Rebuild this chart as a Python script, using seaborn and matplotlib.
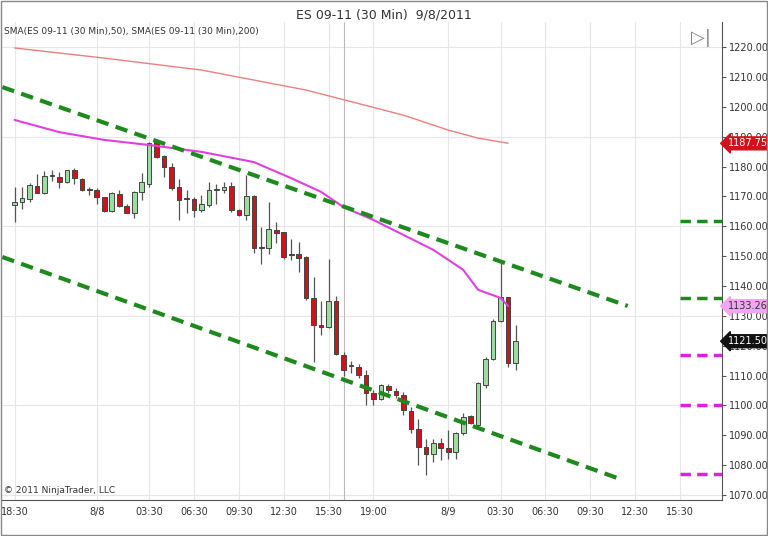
import matplotlib
matplotlib.use("Agg")
import matplotlib.pyplot as plt
import seaborn as sns
import numpy as np
import pandas as pd

opens  = [1167.1,1168.2,1169.1,1173.6,1171.0,1176.9,1176.6,1174.9,1179.0,1175.8,1172.4,1172.3,1169.7,1165.2,1170.7,1166.8,1164.5,1171.3,1174.3,1188.3,1183.5,1179.7,1173.0,1169.1,1169.0,1165.4,1167.1,1172.1,1172.3,1173.5,1165.6,1163.7,1170.1,
          1152.8,1152.6,1158.8,1158.0,1150.5,1150.6,1149.6,1135.9,1127.0,1126.4,1135.1,1116.9,1113.2,1113.0,1110.2,1104.1,1102.2,1106.6,1104.9,
          1103.5,1098.1,1092.1,1086.2,1083.9,1087.5,1085.6,1084.5,1090.6,1096.5,1093.6,1106.8,1115.7,1128.2,1136.2,1114.1]
closes = [1168.2,1169.3,1173.8,1171.2,1176.8,1177.0,1174.9,1178.8,1176.0,1172.1,1172.3,1169.9,1165.2,1171.0,1166.8,1164.5,1171.6,1174.7,1188.0,1183.3,1179.7,1172.7,1168.8,1169.0,1165.6,1167.6,1172.1,1172.6,1173.2,1165.4,1163.7,1170.1,1152.6,
          1152.6,1159.0,1157.9,1149.8,1150.4,1149.3,1135.9,1127.0,1126.4,1135.1,1117.1,1111.7,1113.4,1110.2,1104.1,1102.2,1106.9,1105.0,1103.5,
          1098.4,1092.1,1086.2,1083.9,1087.5,1085.9,1084.5,1090.6,1096.2,1094.0,1107.4,1115.7,1128.2,1136.2,1114.1,1121.5]
highs  = [1173.2,1173.0,1174.6,1177.5,1178.5,1179.0,1178.3,1179.0,1179.4,1176.0,1173.0,1172.7,1169.9,1171.6,1172.1,1167.4,1171.9,1177.7,1188.3,1188.9,1183.8,1181.3,1175.7,1172.1,1169.9,1170.6,1174.7,1174.3,1174.7,1174.7,1165.9,1177.1,1170.4,
          1159.9,1168.0,1161.3,1158.2,1155.6,1154.6,1150.1,1142.9,1135.1,1149.0,1136.6,1117.8,1114.9,1113.9,1111.7,1105.2,1107.2,1107.2,1105.8,
          1104.6,1099.6,1095.3,1088.7,1088.6,1089.0,1091.7,1091.2,1097.6,1096.8,1107.7,1116.1,1128.8,1147.8,1136.4,1126.9]
lows   = [1161.5,1165.7,1168.0,1171.0,1170.8,1175.2,1172.7,1174.6,1174.1,1171.8,1170.4,1167.4,1164.9,1164.9,1166.3,1164.3,1162.6,1168.8,1173.2,1182.7,1176.4,1172.3,1162.1,1164.3,1163.0,1164.9,1166.5,1167.4,1171.0,1164.9,1163.4,1162.1,1150.9,
          1147.4,1150.6,1154.3,1148.9,1148.7,1144.8,1135.3,1114.7,1123.7,1125.8,1116.9,1109.7,1110.8,1109.1,1100.2,1100.2,1101.9,1104.1,1102.4,
          1096.8,1090.9,1080.2,1076.7,1081.2,1081.7,1081.9,1081.9,1090.0,1093.8,1093.3,1105.9,1115.2,1128.0,1112.9,1111.8]

sma50_idx = [0,6,12,18,25,32,37,41,44,48,52,56,60,62,65,66]
sma50_val = [1195.6,1191.5,1188.9,1187.2,1184.9,1181.5,1176.1,1171.5,1166.4,1162.1,1157.1,1152.1,1145.4,1138.7,1136.0,1133.3]
sma200_idx = [0,12,25,39,52,58,62,66]
sma200_val = [1219.7,1216.3,1212.3,1205.6,1197.2,1192.2,1189.5,1187.8]

upper_line_x = [-1.64, 82.0]
upper_line_y = [1206.6, 1133.3]
lower_line_x = [-1.64, 80.6]
lower_line_y = [1149.7, 1075.7]

green_levels = [1161.7, 1136.0]
magenta_levels = [1116.9, 1100.1, 1077.0]

tick_idx = [0,11,18,24,30,36,42,48,58,65,71,77,83,89]
tick_labels = ["18:30","8/8","03:30","06:30","09:30","12:30","15:30","19:00","8/9","03:30","06:30","09:30","12:30","15:30"]

sns.set_style("white")
plt.rcParams['font.family'] = ['DejaVu Sans']

fig = plt.figure(figsize=(7.68,5.36), dpi=100)
ax = fig.add_axes([0.003, 0.067, 0.937, 0.892])
xmin, xmax = -1.64, 94.6
ax.set_xlim(xmin, xmax)
ax.set_ylim(1068.3, 1228.4)

for v in [1070,1100,1130,1160,1190,1220]:
    ax.axhline(v, color="#e6e6e6", lw=0.8, zorder=0)
for t in tick_idx:
    ax.axvline(t, color="#e6e6e6", lw=0.8, zorder=0)
ax.axvline(44.0, color="#bbbbbb", lw=0.8, zorder=0)

df = pd.DataFrame({"i": np.arange(len(opens)), "o": opens, "c": closes, "h": highs, "l": lows})
for r in df.itertuples():
    ax.vlines(r.i, r.l, r.h, color="#555555", lw=0.9, zorder=2)
    up = r.c >= r.o
    lo, hi = min(r.o, r.c), max(r.o, r.c)
    height = max(hi - lo, 0.3)
    ax.bar(r.i, height, bottom=lo, width=0.62, color="#9edb9e" if up else "#d0121b",
           edgecolor="#444444", lw=0.7, zorder=3)

sns.lineplot(x=sma200_idx, y=sma200_val, ax=ax, color="#e88080", lw=1.0, zorder=4)
sns.lineplot(x=sma50_idx, y=sma50_val, ax=ax, color="#e040e0", lw=1.5, zorder=4)
ax.plot(upper_line_x, upper_line_y, color="#1e8a1e", lw=3, ls=(0,(3,1.8)), zorder=5)
ax.plot(lower_line_x, lower_line_y, color="#1e8a1e", lw=3, ls=(0,(3,1.8)), zorder=5)
for v in green_levels:
    ax.plot([89, 94.6], [v, v], color="#1e8a1e", lw=2.5, ls=(0,(3,1.8)), zorder=5)
for v in magenta_levels:
    ax.plot([89, 94.6], [v, v], color="#e020e0", lw=2.5, ls=(0,(3,1.8)), zorder=5)

ax.set_xticks(tick_idx)
ax.set_xticklabels(tick_labels, fontsize=7, color="#333333")
ax.yaxis.tick_right()
ax.set_yticks(np.arange(1070, 1221, 10))
ax.set_yticklabels([f"{v:.2f}" for v in np.arange(1070, 1221, 10)], fontsize=7, color="#333333")
ax.tick_params(axis="both", length=3, color="#555555", pad=2)
for s in ["top", "left"]:
    ax.spines[s].set_visible(False)
ax.spines["right"].set_color("#555555")
ax.spines["bottom"].set_color("#555555")
ax.set_xlabel(""); ax.set_ylabel("")

for val, col, txt in [(1187.75, "#d0121b", "white"), (1133.26, "#f2a6f2", "#333333"), (1121.50, "#111111", "white")]:
    ax.annotate(f"{val:.2f}", xy=(1.0, val), xycoords=("axes fraction", "data"), xytext=(4, 0),
                textcoords="offset points", va="center", ha="left", fontsize=7, color=txt,
                bbox=dict(boxstyle="larrow,pad=0.15", fc=col, ec=col))

fig.text(0.5, 0.985, "ES 09-11 (30 Min)  9/8/2011", ha="center", va="top", fontsize=9, color="#333333")
ax.text(0.003, 0.99, "SMA(ES 09-11 (30 Min),50), SMA(ES 09-11 (30 Min),200)", transform=ax.transAxes,
        fontsize=6.5, va="top", ha="left", color="#333333")
ax.text(0.003, 0.01, "© 2011 NinjaTrader, LLC", transform=ax.transAxes, fontsize=6.5, va="bottom", ha="left", color="#333333")
ax.text(0.985, 0.985, "▷|", transform=ax.transAxes, fontsize=13, va="top", ha="right", color="#888888")

fig.patches.append(plt.Rectangle((0.001, 0.001), 0.998, 0.998, transform=fig.transFigure,
                                 fill=False, ec="#888888", lw=1))
fig.savefig("out.png", dpi=100)
